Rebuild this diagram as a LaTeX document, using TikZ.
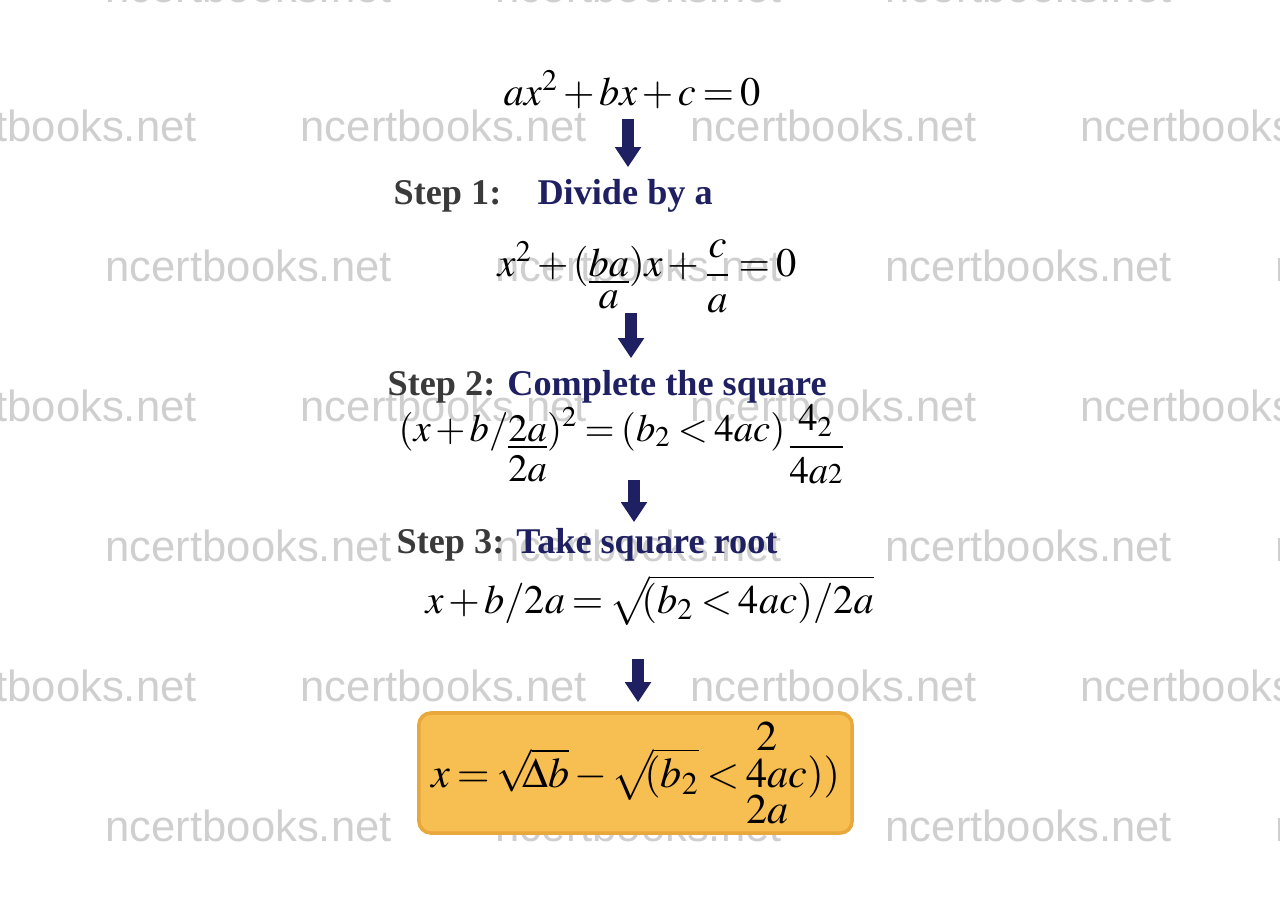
\documentclass[tikz,border=0pt]{standalone}
\usepackage{amsmath}
\usepackage{mathptmx}
\usepackage[no-math]{fontspec}
\setmainfont{Liberation Serif}
\newfontfamily\wmfont{Liberation Sans}
\usetikzlibrary{arrows.meta,positioning}

\definecolor{stepnavy}{HTML}{1F2061}
\definecolor{stepgray}{HTML}{3A3A3A}
\definecolor{boxfill}{HTML}{F7BE52}
\definecolor{boxline}{HTML}{E8A83C}
\definecolor{wmgray}{HTML}{CFCFCF}

\medmuskip=2mu
\thickmuskip=3mu
\newcommand{\tightroot}[1]{\sqrt{\mkern-4mu#1}}

\tikzset{
  wtext/.style={font=\wmfont\fontsize{12.4}{14}\selectfont, text=wmgray, anchor=base west, inner sep=0pt},
  eqn/.style={font=\fontsize{11.5}{14}\selectfont, anchor=base west, inner sep=0pt},
  steplbl/.style={font=\bfseries\fontsize{10.3}{12}\selectfont, text=stepnavy, anchor=base west, inner sep=0pt},
  flowarrow/.style={stepnavy, line width=0.12cm, -{Triangle[width=0.25cm,length=0.2cm]}},
  resultbox/.style={draw=boxline, fill=boxfill, line width=1pt, rounded corners=0.12cm,
    minimum width=4.33cm, minimum height=1.2cm, inner sep=0pt, font=\fontsize{12}{14}\selectfont}
}

\begin{document}
\begin{tikzpicture}[x=0.01cm,y=-0.01cm]
	\useasboundingbox (0,0) rectangle (1280,896);
	
	%watermark
	\node[wtext] (wm01) at (105,2) {ncertbooks.net}; \node[wtext] (wm02) at (495,2) {ncertbooks.net}; \node[wtext] (wm03) at (885,2) {ncertbooks.net};
	\node[wtext] (wm11) at (-90,141) {ncertbooks.net}; \node[wtext] (wm12) at (300,141) {ncertbooks.net}; \node[wtext] (wm13) at (690,141) {ncertbooks.net}; \node[wtext] (wm14) at (1080,141) {ncertbooks.net};
	\node[wtext] (wm21) at (105,281) {ncertbooks.net}; \node[wtext] (wm22) at (495,281) {ncertbooks.net}; \node[wtext] (wm23) at (885,281) {ncertbooks.net}; \node[wtext] (wm24) at (1275,281) {ncertbooks.net};
	\node[wtext] (wm31) at (-90,421) {ncertbooks.net}; \node[wtext] (wm32) at (300,421) {ncertbooks.net}; \node[wtext] (wm33) at (690,421) {ncertbooks.net}; \node[wtext] (wm34) at (1080,421) {ncertbooks.net};
	\node[wtext] (wm41) at (105,561) {ncertbooks.net}; \node[wtext] (wm42) at (495,561) {ncertbooks.net}; \node[wtext] (wm43) at (885,561) {ncertbooks.net}; \node[wtext] (wm44) at (1275,561) {ncertbooks.net};
	\node[wtext] (wm51) at (-90,701) {ncertbooks.net}; \node[wtext] (wm52) at (300,701) {ncertbooks.net}; \node[wtext] (wm53) at (690,701) {ncertbooks.net}; \node[wtext] (wm54) at (1080,701) {ncertbooks.net};
	\node[wtext] (wm61) at (105,841) {ncertbooks.net}; \node[wtext] (wm62) at (495,841) {ncertbooks.net}; \node[wtext] (wm63) at (885,841) {ncertbooks.net}; \node[wtext] (wm64) at (1275,841) {ncertbooks.net};
	
	%equazioni
	\node[eqn] (eq0) at (503,105) {$ax^2+bx+c=0$};
	\node[steplbl] (step1) at (393,204) {{\color{stepgray}Step 1:}\hspace{1em}Divide by a};
	\node[eqn] (eq1) at (497,276) {$x^2+(\underset{\displaystyle a}{\underline{ba}})x+\raisebox{-0.22em}{$\dfrac{c}{a}$}=0$};
	\node[steplbl] (step2) at (387,395) {{\color{stepgray}Step 2:} Complete the square};
	\node[eqn, font=\fontsize{11}{13}\selectfont] (eq2) at (398,441) {$(x+b/\underset{\displaystyle 2a}{\underline{2a}})^2=(b_2<4ac)\raisebox{-0.4em}{$\dfrac{4_2}{4a{\scriptstyle 2}}$}$};
	\node[steplbl] (step3) at (396,553) {{\color{stepgray}Step 3:} Take square root};
	\node[eqn] (eq3) at (425,613) {$x+b/2a=\tightroot{(b_2<4ac)/2a}$};
	
	%risultato
	\node[resultbox] (result) at (635.5,773)
		{$x=\tightroot{\Delta b}-\tightroot{(b_2}<\underset{\displaystyle 2a}{\overset{\displaystyle 2}{4a}}c))$};
	
	%frecce
	\coordinate (c1) at (628,0);
	\coordinate (c2) at (631,0);
	\coordinate (c3) at (634,0);
	\coordinate (c4) at (638,0);
	\draw[flowarrow, shorten <=0.14cm, shorten >=0.11cm] (eq0.base -| c1) -- (step1.north -| c1);
	\draw[flowarrow, shorten <=0.37cm, shorten >=0.11cm] (eq1.base -| c2) -- (step2.north -| c2);
	\draw[flowarrow, shorten <=0.39cm, shorten >=0.05cm] (eq2.base -| c3) -- (step3.north -| c3);
	\draw[flowarrow, shorten <=0.46cm, shorten >=0.09cm] (eq3.base -| c4) -- (result.north -| c4);
\end{tikzpicture}
\end{document}
